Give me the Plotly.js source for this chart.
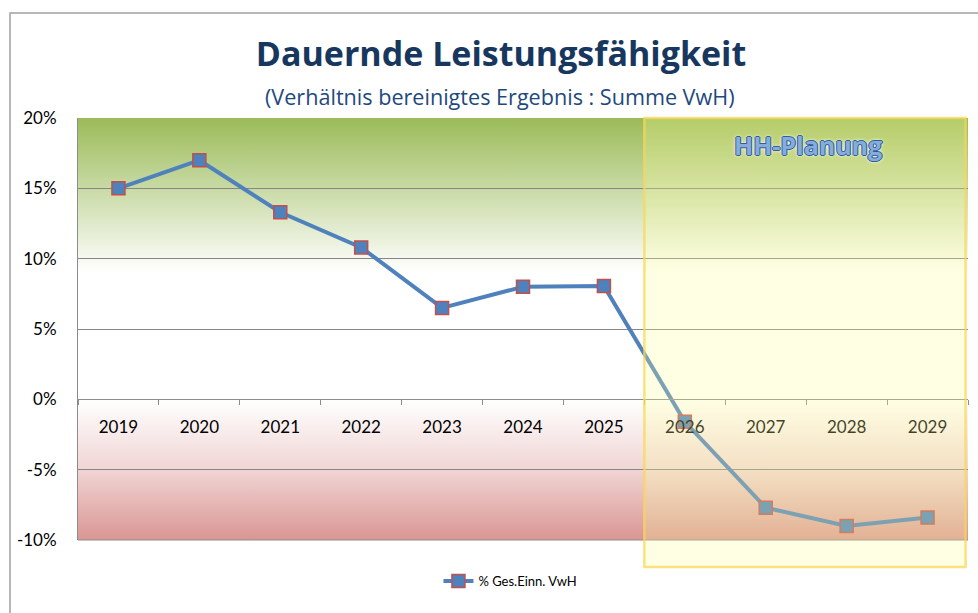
<!DOCTYPE html>
<html>
<head>
<meta charset="utf-8">
<script src="https://cdn.plot.ly/plotly-3.0.1.min.js"></script>
<style>
html,body{margin:0;padding:0;background:#fff;}
#chart{width:978px;height:613px;}
</style>
</head>
<body>
<div id="chart"></div>
<script>
// ---- data ----
const years = [2019, 2020, 2021, 2022, 2023, 2024, 2025, 2026, 2027, 2028, 2029];
const yearLabels = ['2019','2020','2021','2022','2023','2024','2025','2026','2027','2028','2029'];
const ratioPct = [15.0, 17.0, 13.3, 10.8, 6.5, 8.0, 8.05, -1.6, -7.7, -9.0, -8.4];
const seriesName = '% Ges.Einn. VwH';
const planStartYear = 2026;
const planLabel = 'HH-Planung';
const yTicks = [-10, -5, 0, 5, 10, 15, 20];
const yTickLabels = ['-10%', '-5%', '0%', '5%', '10%', '15%', '20%'];

const FONT = 'Lato, "Open Sans", sans-serif';
const TFONT = '"Open Sans", Lato, sans-serif';
const xMin = years[0] - 0.5, xMax = years[years.length - 1] + 0.5;
const yMin = -10, yMax = 20;

function gradImg(stops) {
  let s = '';
  stops.forEach(function (st) { s += "<stop offset='" + st[0] + "' stop-color='" + st[1] + "'/>"; });
  const svg = "<svg xmlns='http://www.w3.org/2000/svg' width='10' height='100' preserveAspectRatio='none'>" +
    "<defs><linearGradient id='g' x1='0' y1='0' x2='0' y2='1'>" + s +
    "</linearGradient></defs><rect width='10' height='100' fill='url(#g)'/></svg>";
  return 'data:image/svg+xml;charset=utf-8,' + encodeURIComponent(svg);
}

const trace = {
  x: years,
  y: ratioPct,
  name: seriesName,
  type: 'scatter',
  mode: 'lines+markers',
  line: {color: '#4f81bd', width: 4},
  marker: {symbol: 'square', size: 13, color: '#4f81bd', line: {color: '#c0504d', width: 1.5}},
  hovertemplate: '%{x}: %{y:.1f}%<extra></extra>'
};

const zeroFrac = (0 - yMin) / (yMax - yMin);

const layout = {
  width: 978, height: 613,
  margin: {l: 78, r: 10, t: 118, b: 73},
  paper_bgcolor: '#ffffff',
  plot_bgcolor: 'rgba(0,0,0,0)',
  font: {family: FONT, color: '#000000'},
  showlegend: true,
  legend: {
    orientation: 'h', x: 0.405, xanchor: 'left', y: -0.097, yanchor: 'middle',
    font: {family: FONT, size: 13, color: '#000'}, bgcolor: 'rgba(0,0,0,0)'
  },
  title: {
    text: '<b>Dauernde Leistungsfähigkeit</b>',
    x: 501 / 978, xref: 'container', xanchor: 'center',
    y: 1 - 54 / 613, yref: 'container', yanchor: 'middle',
    font: {family: TFONT, size: 34, color: '#17375e'}
  },
  xaxis: {
    type: 'linear',
    range: [xMin, xMax],
    anchor: 'free', position: zeroFrac,
    tickmode: 'array', tickvals: years, ticktext: yearLabels,
    ticks: 'outside', ticklen: 12, tickcolor: 'rgba(0,0,0,0)',
    minor: {tickmode: 'linear', tick0: xMin, dtick: 1, ticks: 'outside', ticklen: 5, tickcolor: '#8c8c8c', tickwidth: 1, showgrid: false},
    tickfont: {family: FONT, size: 17, color: '#000'},
    showgrid: false, zeroline: false,
    showline: true, linecolor: '#8c8c8c', linewidth: 1,
    fixedrange: true
  },
  yaxis: {
    range: [yMin, yMax],
    tickmode: 'array', tickvals: yTicks, ticktext: yTickLabels,
    ticks: '', ticklabelstandoff: 17,
    tickfont: {family: FONT, size: 17, color: '#000'},
    showgrid: true, gridcolor: '#868686', gridwidth: 1,
    zeroline: false,
    showline: true, linecolor: '#8c8c8c', linewidth: 1, mirror: false,
    fixedrange: true
  },
  images: [
    {source: gradImg([[0, '#9bbb59'], [1, '#ffffff']]), xref: 'x', yref: 'y', x: xMin, y: yMax,
     sizex: xMax - xMin, sizey: 11, xanchor: 'left', yanchor: 'top', sizing: 'stretch', layer: 'below'},
    {source: gradImg([[0, '#ffffff'], [0.5, '#f0d5d4'], [1, '#d99694']]), xref: 'x', yref: 'y', x: xMin, y: 0,
     sizex: xMax - xMin, sizey: 10, xanchor: 'left', yanchor: 'top', sizing: 'stretch', layer: 'below'}
  ],
  shapes: [
    {type: 'line', xref: 'paper', yref: 'paper', x0: 0, x1: 1, y0: 0, y1: 0, line: {color: '#8c8c8c', width: 1}, layer: 'above'},
    {type: 'rect', xref: 'x', yref: 'paper', x0: planStartYear - 0.5, x1: xMax - 0.03, y0: -0.064, y1: 1,
     fillcolor: 'rgba(255,255,150,0.26)', line: {color: 'rgba(250,215,90,0.75)', width: 2.5}, layer: 'above'},
    {type: 'rect', xref: 'paper', yref: 'paper', x0: -68 / 890, x1: 1.2, y0: -0.3, y1: (540 - 13) / 422,
     fillcolor: 'rgba(0,0,0,0)', line: {color: '#a0a0a0', width: 1.5}, layer: 'below'}
  ],
  annotations: [
    {text: '(Verhältnis bereinigtes Ergebnis : Summe VwH)', xref: 'paper', yref: 'paper',
     x: (500 - 78) / 890, y: (540 - 96) / 422, xanchor: 'center', yanchor: 'middle', showarrow: false,
     font: {family: TFONT, size: 21.6, color: '#1f497d'}},
    {text: '<b>' + planLabel + '</b>', xref: 'x', yref: 'y', x: 2027.52, y: 18.1,
     xanchor: 'center', yanchor: 'middle', showarrow: false,
     font: {family: TFONT, size: 25, color: '#86acdb',
            shadow: '-1px 0 0 #2f5e9e, 1px 0 0 #2f5e9e, 0 -1px 0 #2f5e9e, 0 1px 0 #2f5e9e, 0 0 4px #ffffff, 0 0 3px #ffffff'}}
  ]
};

Plotly.newPlot('chart', [trace], layout, {displayModeBar: false, staticPlot: true});
</script>
</body>
</html>
